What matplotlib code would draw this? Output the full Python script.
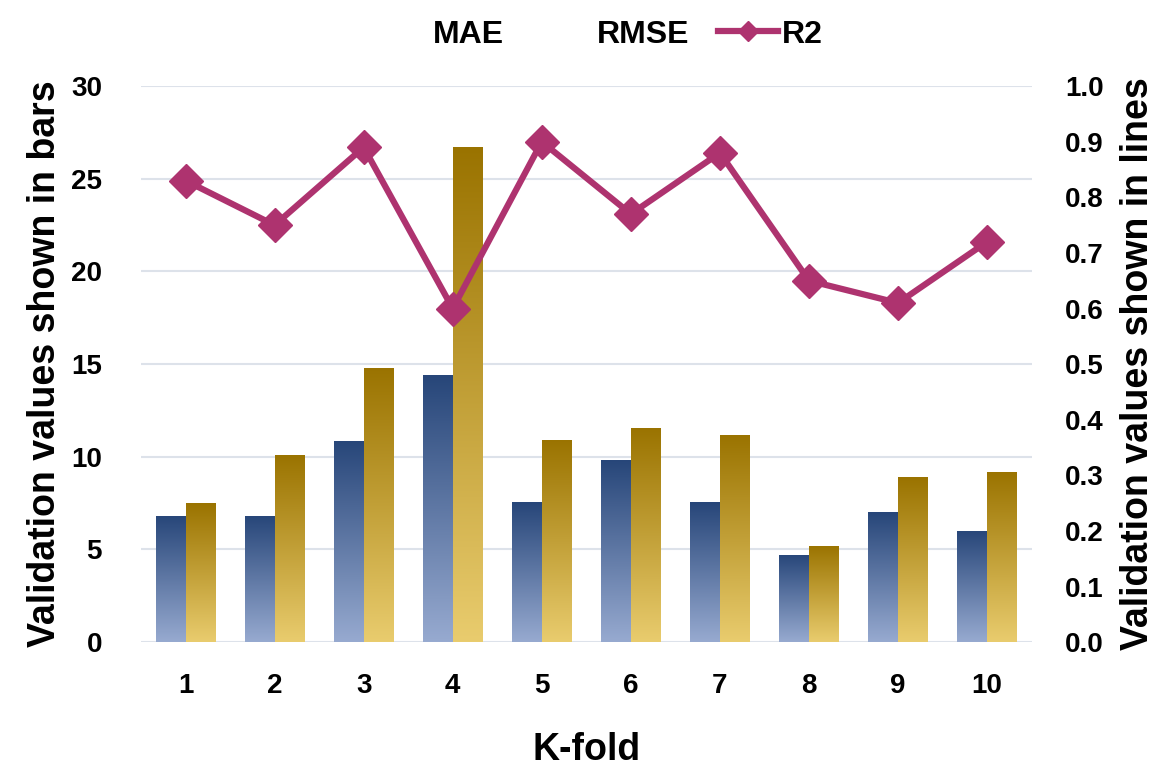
import numpy as np
import matplotlib.pyplot as plt
from matplotlib.colors import LinearSegmentedColormap
from matplotlib.lines import Line2D
from matplotlib.patches import Patch

plt.rcParams['font.family'] = ['Liberation Sans', 'DejaVu Sans']
plt.rcParams['font.weight'] = 'bold'

folds = [1, 2, 3, 4, 5, 6, 7, 8, 9, 10]
mae = [6.8, 6.8, 10.85, 14.4, 7.55, 9.8, 7.55, 4.7, 7.0, 6.0]
rmse = [7.5, 10.1, 14.8, 26.7, 10.9, 11.55, 11.2, 5.2, 8.9, 9.2]
r2 = [0.83, 0.75, 0.89, 0.60, 0.90, 0.77, 0.88, 0.65, 0.61, 0.72]

blue_cmap = LinearSegmentedColormap.from_list('blue_grad', ['#97aad0', '#274679'])
gold_cmap = LinearSegmentedColormap.from_list('gold_grad', ['#e9cc6e', '#9a7300'])

fig, ax = plt.subplots(figsize=(11.75, 7.69), dpi=100)
fig.subplots_adjust(left=0.12, right=0.878, top=0.888, bottom=0.165)

x = np.arange(len(folds)) + 1
w = 0.335


def gradient_bars(ax, xs, heights, cmap):
    bars = ax.bar(xs, heights, width=w, color='none', edgecolor='none', zorder=2)
    grad = np.linspace(0, 1, 256).reshape(-1, 1)
    for b in bars:
        x0, y0 = b.get_x(), b.get_y()
        im = ax.imshow(grad, cmap=cmap, origin='lower', aspect='auto',
                       extent=[x0, x0 + b.get_width(), y0, y0 + b.get_height()],
                       zorder=2)
        im.set_clip_path(b)
    return bars


gradient_bars(ax, x - w / 2, mae, blue_cmap)
gradient_bars(ax, x + w / 2, rmse, gold_cmap)

ax.set_xlim(0.5, 10.5)
ax.set_ylim(0, 30)
ax.set_yticks(range(0, 31, 5))
ax.set_xticks(x)
ax.set_xticklabels([str(f) for f in folds])
ax.grid(axis='y', color='#dde2ea', linewidth=1.5, zorder=0)
ax.set_axisbelow(True)
for s in ax.spines.values():
    s.set_visible(False)
ax.tick_params(length=0, labelsize=20, pad=22)
ax.tick_params(axis='y', pad=28)
ax.set_xlabel('K-fold', fontsize=27, fontweight='bold', labelpad=24)
ax.set_ylabel('Validation values shown in bars', fontsize=27, fontweight='bold', labelpad=6)

ax2 = ax.twinx()
ax2.plot(x, r2, color='#ae336f', linewidth=4.5, marker='D', markersize=17, zorder=5)
ax2.set_ylim(0, 1.0)
ax2.set_yticks(np.arange(0, 1.01, 0.1))
ax2.set_yticklabels([f'{v:.1f}' for v in np.arange(0, 1.01, 0.1)])
for s in ax2.spines.values():
    s.set_visible(False)
ax2.tick_params(length=0, labelsize=20, pad=24)
ax2.set_ylabel('Validation values shown in lines', fontsize=27, fontweight='bold', labelpad=12)

# bar legend entries carry no visible swatch
handles = [Patch(facecolor='none', edgecolor='none', label='MAE'),
           Patch(facecolor='none', edgecolor='none', label='RMSE'),
           Line2D([], [], color='#ae336f', linewidth=4.5, marker='D', markersize=10, label='R2')]
fig.legend(handles=handles, loc='upper center', bbox_to_anchor=(0.507, 1.012), ncol=3,
           frameon=False, fontsize=23, handlelength=1.9, columnspacing=0.9, handletextpad=0.1)

plt.savefig('out.png', dpi=100)
